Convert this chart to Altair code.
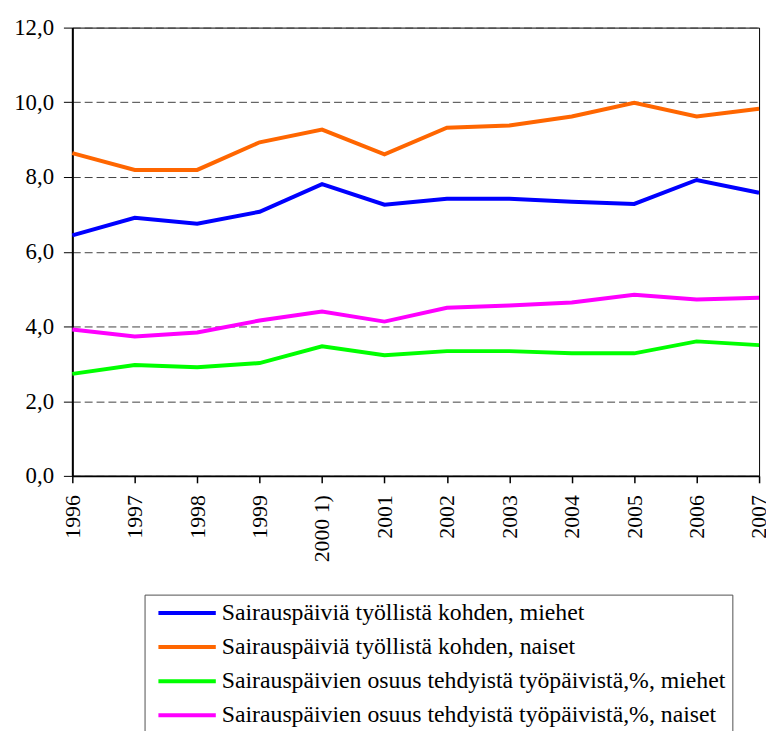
import altair as alt
import pandas as pd

years = ["1996", "1997", "1998", "1999", "2000 1)", "2001", "2002", "2003",
         "2004", "2005", "2006", "2007"]
series_names = [
    "Sairauspäiviä työllistä kohden, miehet",
    "Sairauspäiviä työllistä kohden, naiset",
    "Sairauspäivien osuus tehdyistä työpäivistä,%, miehet",
    "Sairauspäivien osuus tehdyistä työpäivistä,%, naiset",
]
colors = ["#0000FF", "#FF6600", "#00FF00", "#FF00FF"]

days_men = [6.44, 6.91, 6.75, 7.07, 7.81, 7.26, 7.42, 7.42, 7.34, 7.28, 7.92, 7.58]
days_women = [8.64, 8.19, 8.19, 8.93, 9.27, 8.61, 9.32, 9.38, 9.62, 9.99, 9.62, 9.83]
share_men = [2.73, 2.97, 2.91, 3.02, 3.47, 3.23, 3.34, 3.34, 3.28, 3.28, 3.60, 3.50]
share_women = [3.92, 3.73, 3.84, 4.16, 4.40, 4.13, 4.50, 4.56, 4.64, 4.85, 4.72, 4.77]

rows = []
for name, vals in zip(series_names, [days_men, days_women, share_men, share_women]):
    for i, (yr, v) in enumerate(zip(years, vals)):
        rows.append({"year": yr, "value": v, "series": name, "order": i})
df = pd.DataFrame(rows)

FONT = "Liberation Serif"

chart = alt.Chart(df).mark_line(strokeWidth=4).encode(
    x=alt.X("year:N", sort=years, title=None,
            scale=alt.Scale(type="point", padding=0),
            axis=alt.Axis(labelAngle=270, labelAlign="right", labelBaseline="middle",
                          labelFont=FONT, labelFontSize=22, labelColor="black",
                          labelPadding=12, tickSize=7, tickColor="black",
                          domainColor="black", domainWidth=2, tickWidth=1.5,
                          grid=False)),
    y=alt.Y("value:Q", title=None,
            scale=alt.Scale(domain=[0, 12], nice=False),
            axis=alt.Axis(values=[0, 2, 4, 6, 8, 10, 12],
                          labelExpr="replace(format(datum.value, '.1f'), '.', ',')",
                          labelFont=FONT, labelFontSize=23, labelColor="black",
                          labelPadding=10, tickSize=9, tickColor="black",
                          domainColor="black", domainWidth=2,
                          grid=True, gridDash=[8, 4], gridColor="#404040",
                          gridWidth=1)),
    color=alt.Color("series:N",
                    scale=alt.Scale(domain=series_names, range=colors),
                    sort=series_names,
                    legend=alt.Legend(title=None, orient="none",
                                      legendX=73, legendY=573,
                                      direction="vertical",
                                      symbolType="stroke", symbolSize=3364,
                                      symbolStrokeWidth=4, symbolOffset=6,
                                      clipHeight=25,
                                      labelFont=FONT, labelFontSize=24,
                                      labelColor="black", labelLimit=0,
                                      labelOffset=4,
                                      strokeColor="#505050", padding=6,
                                      rowPadding=9.5)),
    order="order:Q",
).properties(
    width=694, height=453,
    autosize=alt.AutoSizeParams(type="none"),
    padding={"left": 65, "top": 16, "right": 7, "bottom": 254},
).configure_view(stroke="black", strokeWidth=1)

chart.save("out.html", embed_options={"renderer": "svg", "actions": False})
